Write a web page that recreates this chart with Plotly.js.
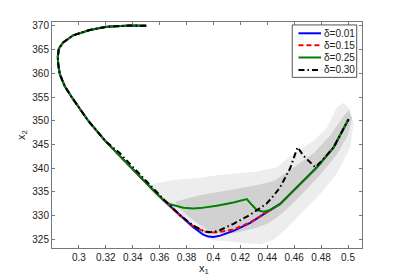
<!DOCTYPE html>
<html>
<head>
<meta charset="utf-8">
<script src="https://cdn.plot.ly/plotly-3.0.1.min.js"></script>
<style>html,body{margin:0;padding:0;background:#fff;}#chart{width:399px;height:279px;}</style>
</head>
<body>
<div id="chart"></div>
<script>
// Shared upper arc of all trajectories
const upperX = [0.350, 0.338, 0.3206, 0.308, 0.2958, 0.2883, 0.2851, 0.2843, 0.2846, 0.2858, 0.2896, 0.2946, 0.3069, 0.3194];
const upperY = [370.0, 370.05, 369.8, 369.1, 368.0, 366.5, 365.2, 363.5, 362.0, 359.8, 357.2, 355.0, 350.0, 345.8];

// delta = 0.01
const blueTailX = [0.3303, 0.3404, 0.3494, 0.3566, 0.3628, 0.3700, 0.3752, 0.385, 0.3925, 0.3962, 0.400, 0.405, 0.4149, 0.4273, 0.4397, 0.4496, 0.4645, 0.4769, 0.4893, 0.4968, 0.5004];
const blueTailY = [342.6, 339.6, 337.0, 335.0, 333.3, 331.4, 330.0, 327.6, 326.0, 325.6, 325.5, 325.8, 326.8, 328.5, 330.75, 332.5, 336.7, 340.2, 344.4, 348.4, 350.3];
// delta = 0.15
const redTailX = [0.3303, 0.3404, 0.3494, 0.3566, 0.3628, 0.3700, 0.3752, 0.385, 0.3925, 0.3975, 0.405, 0.4149, 0.4273, 0.4397, 0.4496, 0.4645, 0.4769, 0.4893, 0.4968, 0.5004];
const redTailY = [342.6, 339.6, 337.0, 335.0, 333.3, 331.4, 330.0, 327.8, 326.7, 326.4, 326.6, 327.1, 328.6, 330.75, 332.5, 336.7, 340.2, 344.4, 348.4, 350.3];
// delta = 0.25
const greenTailX = [0.3303, 0.3404, 0.3494, 0.3566, 0.3628, 0.3677, 0.3776, 0.385, 0.390, 0.4025, 0.4149, 0.4248, 0.4285, 0.4322, 0.4372, 0.4422, 0.4496, 0.4645, 0.4769, 0.4893, 0.4968, 0.5004];
const greenTailY = [342.6, 339.6, 337.0, 335.0, 333.3, 332.4, 331.7, 331.5, 331.6, 332.1, 332.8, 333.5, 332.3, 331.2, 330.85, 331.2, 332.5, 336.7, 340.2, 344.4, 348.4, 350.3];
// delta = 0.30
const blackTailX = [0.3303, 0.3404, 0.3494, 0.3566, 0.3628, 0.3752, 0.385, 0.3925, 0.3975, 0.4037, 0.4094, 0.4149, 0.4273, 0.4347, 0.4397, 0.4446, 0.4496, 0.457, 0.4625, 0.467, 0.4757, 0.4818, 0.4893, 0.4968, 0.5004];
const blackTailY = [343.2, 340.2, 337.6, 335.4, 333.5, 330.1, 327.9, 326.8, 326.5, 326.8, 327.5, 328.3, 330.2, 331.6, 332.6, 334.2, 336.0, 340.0, 344.4, 342.6, 340.2, 342.0, 344.4, 348.4, 350.3];

// Outline of the sample cloud (sparse outer region)
const cloudOuterX = [0.352, 0.360, 0.3677, 0.380, 0.390, 0.4025, 0.4149, 0.4322, 0.4471, 0.4595, 0.4744, 0.4844, 0.4918, 0.4968, 0.5012, 0.5042, 0.5017, 0.4918, 0.4794, 0.4645, 0.4550, 0.4450, 0.4350, 0.4200, 0.410, 0.400, 0.390, 0.380, 0.370, 0.360, 0.352];
const cloudOuterY = [336.5, 337.0, 337.4, 337.8, 338.0, 338.5, 338.9, 339.3, 340.2, 343.0, 345.8, 348.6, 352.9, 353.8, 352.5, 349.4, 344.4, 338.9, 334.6, 330.4, 327.5, 325.0, 324.0, 324.3, 324.7, 324.8, 326.0, 328.3, 330.8, 333.4, 335.5];
// Outline of the dense core of the cloud
const cloudCoreX = [0.372, 0.390, 0.410, 0.430, 0.445, 0.460, 0.475, 0.487, 0.495, 0.5005, 0.503, 0.500, 0.492, 0.482, 0.470, 0.458, 0.448, 0.440, 0.430, 0.415, 0.400, 0.390, 0.380, 0.372];
const cloudCoreY = [333.0, 334.3, 335.3, 336.3, 337.3, 340.2, 343.3, 347.0, 350.3, 352.3, 350.5, 347.0, 343.0, 339.5, 335.8, 332.3, 329.8, 328.3, 327.3, 326.3, 326.3, 328.0, 330.2, 332.2];

const legendNames = ['\u03b4=0.01', '\u03b4=0.15', '\u03b4=0.25', '\u03b4=0.30'];
const seriesColors = ['#0000ff', '#ff0000', '#008000', '#000000'];
const seriesDash = ['solid', '5px,3px', 'solid', '6px,3px,1.5px,3px'];
const xTicks = [0.3, 0.32, 0.34, 0.36, 0.38, 0.4, 0.42, 0.44, 0.46, 0.48, 0.5];
const yTicks = [325, 330, 335, 340, 345, 350, 355, 360, 365, 370];

const seriesX = [upperX.concat(blueTailX), upperX.concat(redTailX), upperX.concat(greenTailX), upperX.concat(blackTailX)];
const seriesY = [upperY.concat(blueTailY), upperY.concat(redTailY), upperY.concat(greenTailY), upperY.concat(blackTailY)];

const traces = [
  {x: cloudOuterX, y: cloudOuterY, mode: 'lines', fill: 'toself', line: {width: 0, color: 'rgba(0,0,0,0)'},
   fillcolor: 'rgba(150,150,150,0.17)', showlegend: false, hoverinfo: 'skip'},
  {x: cloudCoreX, y: cloudCoreY, mode: 'lines', fill: 'toself', line: {width: 0, color: 'rgba(0,0,0,0)'},
   fillcolor: 'rgba(120,120,120,0.24)', showlegend: false, hoverinfo: 'skip'}
];
for (let i = 0; i < 4; i++) {
  traces.push({x: seriesX[i], y: seriesY[i], mode: 'lines', name: legendNames[i], showlegend: false,
    line: {color: seriesColors[i], width: 2, dash: seriesDash[i]}});
}

// Hand-made compact legend (MATLAB style)
const lg = {x0: 0.775, x1: 0.983, y0: 0.755, y1: 0.987, lineX0: 0.795, lineX1: 0.868, textX: 0.872, rows: [0.950, 0.897, 0.843, 0.788]};
const shapes = [{type: 'rect', xref: 'paper', yref: 'paper', x0: lg.x0, x1: lg.x1, y0: lg.y0, y1: lg.y1,
  line: {color: '#555', width: 1}, fillcolor: '#fff', layer: 'above'}];
const annotations = [];
for (let i = 0; i < 4; i++) {
  shapes.push({type: 'line', xref: 'paper', yref: 'paper', x0: lg.lineX0, x1: lg.lineX1, y0: lg.rows[i], y1: lg.rows[i],
    line: {color: seriesColors[i], width: 2, dash: seriesDash[i]}, layer: 'above'});
  annotations.push({xref: 'paper', yref: 'paper', x: lg.textX, y: lg.rows[i], xanchor: 'left', yanchor: 'middle',
    text: legendNames[i], showarrow: false, font: {size: 10, color: '#222'}});
}
// x-axis title placed a little closer to the tick labels
annotations.push({xref: 'paper', yref: 'paper', x: 0.49, y: 0, xanchor: 'center', yanchor: 'top', yshift: -12,
  text: 'x<sub>1</sub>', showarrow: false, font: {size: 11, color: '#222'}});

const axisCommon = {
  showline: true, linecolor: '#777', linewidth: 1, mirror: 'ticks',
  ticks: 'inside', ticklen: 3, tickcolor: '#777', tickwidth: 1,
  showgrid: false, zeroline: false,
  tickfont: {family: 'Liberation Sans, Arial, sans-serif', size: 10, color: '#222'}
};

const layout = {
  width: 399, height: 279,
  margin: {l: 52, r: 37, t: 22, b: 31, pad: 0},
  paper_bgcolor: '#fff', plot_bgcolor: '#fff',
  font: {family: 'Liberation Sans, Arial, sans-serif', size: 10, color: '#222'},
  xaxis: Object.assign({}, axisCommon, {
    range: [0.28, 0.5104], tickmode: 'array', tickvals: xTicks, ticktext: xTicks.map(String)
  }),
  yaxis: Object.assign({}, axisCommon, {
    range: [323.2, 370.8], tickmode: 'array', tickvals: yTicks, ticktext: yTicks.map(String),
    title: {text: 'x<sub>2</sub>', font: {size: 11, color: '#222'}, standoff: 4}
  }),
  shapes: shapes,
  annotations: annotations,
  showlegend: false
};

Plotly.newPlot('chart', traces, layout, {displayModeBar: false, staticPlot: true});
</script>
</body>
</html>
